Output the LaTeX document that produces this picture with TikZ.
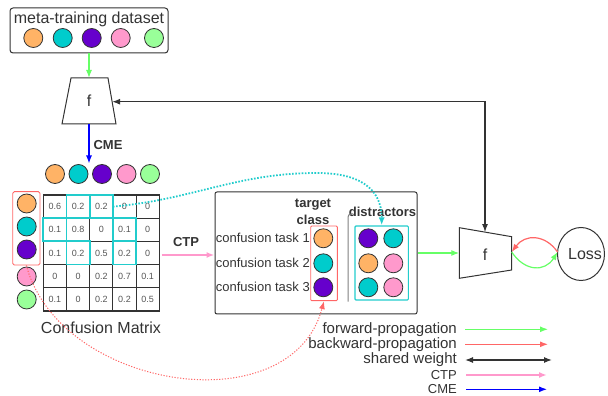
\documentclass[tikz,border=0pt]{standalone}
\usepackage{fontspec}
\setmainfont{Liberation Sans}
\usetikzlibrary{arrows.meta,shapes.geometric}
\definecolor{corange}{HTML}{FFB366}
\definecolor{cteal}{HTML}{00CCCC}
\definecolor{cpurple}{HTML}{6600CC}
\definecolor{cpink}{HTML}{FF99CC}
\definecolor{cgreen}{HTML}{99FF99}
\definecolor{fwd}{HTML}{66FF66}
\definecolor{bwd}{HTML}{FF6666}
\definecolor{ctpc}{HTML}{FF99CC}
\definecolor{cyanhl}{HTML}{22CCCC}
\definecolor{txt}{HTML}{333333}
\definecolor{valc}{HTML}{555555}
\begin{document}
\begin{tikzpicture}[x=1pt,y=1pt,
  ball/.style={circle,draw=txt,line width=0.8pt,minimum size=19pt,inner sep=0pt},
  cell/.style={draw=txt,line width=1.1pt,minimum size=23.2pt,inner sep=0pt,outer sep=0pt,
    font=\fontsize{9}{10}\selectfont,text=valc},
  hl/.style={draw=cyanhl,line width=1.8pt},
  big/.style={font=\fontsize{16}{18}\selectfont,text=txt,inner sep=0pt},
  leg/.style={font=\fontsize{15}{17}\selectfont,text=txt,inner sep=0pt,anchor=east},
  legs/.style={font=\fontsize{13}{15}\selectfont,text=txt,inner sep=0pt,anchor=east},
  mid/.style={font=\fontsize{13}{15}\selectfont,text=txt,inner sep=0pt},
  bold/.style={font=\fontsize{13}{15}\selectfont\bfseries,text=txt,inner sep=0pt},
  box/.style={draw=txt,line width=1pt,inner sep=0pt},
  tip/.style={-{Latex[length=8pt,width=6pt]}},
  line/.style={line width=1.2pt}
]
\useasboundingbox (0,0) rectangle (608,396);

% dataset box
\node[box,rounded corners=3pt,minimum width=158pt,minimum height=45pt] (ds) at (89,365.5) {};
\node[big] (dstitle) at (89,377) {meta-training dataset};
\node[ball,fill=corange] (d1) at (33.3,358) {};
\node[ball,fill=cteal] (d2) at (62.7,358) {};
\node[ball,fill=cpurple] (d3) at (91.7,358) {};
\node[ball,fill=cpink] (d4) at (120.7,358) {};
\node[ball,fill=cgreen] (d5) at (154,358) {};

% f1
\draw[box] (71,318) -- (108,318) -- (116,272) -- (62,272) -- cycle;
\node[big] (f1) at (89,295) {f};
\coordinate (f1top) at (89,318);
\coordinate (f1bot) at (89,272);
\coordinate (f1right) at (112.1,294.3);
\draw[line,fwd,tip] (ds.south) -- (f1top);

% CME
\node[ball,fill=corange] (c1) at (55,222) {};
\node[ball,fill=cteal] (c2) at (78.5,222) {};
\node[ball,fill=cpurple] (c3) at (102,222) {};
\node[ball,fill=cpink] (c4) at (126.5,222) {};
\node[ball,fill=cgreen] (c5) at (150,222) {};
\coordinate (cmeend) at (89,232.5);
\draw[line,blue,tip] (f1bot) -- (cmeend);
\node[bold] (cmelab) at (108,251) {CME};

% matrix
\foreach \r/\vals in {1/{0.6,0.2,0.2,0,0},2/{0.1,0.8,0,0.1,0},3/{0.1,0.2,0.5,0.2,0},4/{0,0,0.2,0.7,0.1},5/{0.1,0,0.2,0.2,0.5}}{
  \foreach \v [count=\c] in \vals {
    \node[cell] (m\r\c) at ({43.3+23.2*(\c-0.5)},{201-23.2*(\r-0.5)}) {\v};
  }
}
\foreach \n in {m12,m13,m21,m24,m32,m34}{
  \draw[hl] (\n.north west) rectangle (\n.south east);
}
\node[big] (cmlab) at (101,68) {Confusion Matrix};

% row circles
\node[draw=bwd,line width=0.9pt,rounded corners=1.5pt,minimum width=27.3pt,minimum height=73.3pt,inner sep=0pt] (rowbox) at (26.35,167.65) {};
\node[ball,fill=corange] (r1) at (26.7,192.5) {};
\node[ball,fill=cteal] (r2) at (26.7,169.5) {};
\node[ball,fill=cpurple] (r3) at (26.7,146.5) {};
\node[ball,fill=cpink] (r4) at (26.7,119.5) {};
\node[ball,fill=cgreen] (r5) at (26.7,96.5) {};

% middle box
\node[box,rounded corners=2pt,minimum width=202pt,minimum height=122pt] (mb) at (316,143) {};
\node[bold] (tc1) at (313,191) {target};
\node[bold] (tc2) at (313,176) {class};
\node[bold] (dl) at (382.5,184) {distractors};
\draw[gray,line width=1pt,rounded corners=3pt] (353,182) -- (348,182) -- (348,94.3);
\node[draw=bwd,line width=0.9pt,rounded corners=1pt,minimum width=26.6pt,minimum height=74.7pt,inner sep=0pt] (tbox) at (324,132.65) {};
\node[draw=cyanhl,line width=1.2pt,rounded corners=1pt,minimum width=53.3pt,minimum height=74pt,inner sep=0pt] (dbox) at (381.7,133) {};
\node[mid,anchor=east] (t1) at (310,157.7) {confusion task 1};
\node[mid,anchor=east] (t2) at (310,132.7) {confusion task 2};
\node[mid,anchor=east] (t3) at (310,108.7) {confusion task 3};
\node[ball,fill=corange] (g1) at (323.3,157.7) {};
\node[ball,fill=cteal] (g2) at (323.3,132.7) {};
\node[ball,fill=cpurple] (g3) at (323.3,108.7) {};
\node[ball,fill=cpurple] (x11) at (368.3,157.7) {};
\node[ball,fill=cteal] (x12) at (393.3,157.7) {};
\node[ball,fill=corange] (x21) at (368.3,132.7) {};
\node[ball,fill=cpink] (x22) at (393.3,132.7) {};
\node[ball,fill=cteal] (x31) at (368.3,108.7) {};
\node[ball,fill=cpink] (x32) at (393.3,108.7) {};

% CTP
\coordinate (ctpstart) at (161.7,141);
\coordinate (ctpend) at (214.5,141);
\draw[line width=1.6pt,ctpc,tip] (ctpstart) -- (ctpend);
\node[bold] (ctplab) at (186,154) {CTP};

% f2
\draw[box] (459.3,168.3) -- (511.7,159.3) -- (511.7,126) -- (459.3,117.7) -- cycle;
\node[big] (f2) at (485,141) {f};
\coordinate (f2left) at (459.3,143);
\coordinate (f2top) at (485,163.9);
\coordinate (f2right) at (511.7,144);
\draw[line,fwd,tip] (mb.east |- f2left) -- (f2left);

% shared weight
\draw[line,txt,{Latex[length=8pt,width=6pt]}-{Latex[length=8pt,width=6pt]}] (f1right) -| (f2top);

% Loss
\node[draw=txt,line width=1pt,ellipse,minimum width=47pt,minimum height=53pt,inner sep=0pt] (loss) at (581,142) {};
\node[big] (losslab) at (585,142) {Loss};
\coordinate (lossl) at (557.6,144);
\draw[line,bwd,tip] (lossl) .. controls (545,162) and (525,162) .. (f2right);
\draw[line,fwd,tip] (f2right) .. controls (525,124) and (545,124) .. (lossl);

% dotted curves
\coordinate (peak) at (317,223);
\draw[cyanhl,line width=1.8pt,dash pattern=on 1.6pt off 1.6pt,tip] (m13.east) to[out=5,in=180] (peak) to[out=0,in=90,looseness=1.2] (dbox.north);
\draw[bwd,line width=1pt,dash pattern=on 1.2pt off 1.6pt,tip] (rowbox.south) to[out=-75,in=-105,looseness=1.1] (tbox.south);

% legend
\node[leg] (l1) at (457,66.7) {forward-propagation};
\node[leg] (l2) at (457,51.7) {backward-propagation};
\node[leg] (l3) at (457,36) {shared weight};
\node[legs] (l4) at (457,21) {CTP};
\node[legs] (l5) at (457,6.7) {CME};
\coordinate (a1s) at (465,66.7); \coordinate (a1e) at (548,66.7);
\coordinate (a2s) at (465,51.7); \coordinate (a2e) at (548,51.7);
\coordinate (a3s) at (465,36); \coordinate (a3e) at (552,36);
\coordinate (a4s) at (466,21); \coordinate (a4e) at (547,21);
\coordinate (a5s) at (466,6.7); \coordinate (a5e) at (547,6.7);
\draw[line,fwd,tip] (a1s) -- (a1e);
\draw[line,bwd,tip] (a2s) -- (a2e);
\draw[line,txt,{Latex[length=8pt,width=6pt]}-{Latex[length=8pt,width=6pt]}] (a3s) -- (a3e);
\draw[line width=1.6pt,ctpc,tip] (a4s) -- (a4e);
\draw[line,blue,tip] (a5s) -- (a5e);
\end{tikzpicture}
\end{document}
